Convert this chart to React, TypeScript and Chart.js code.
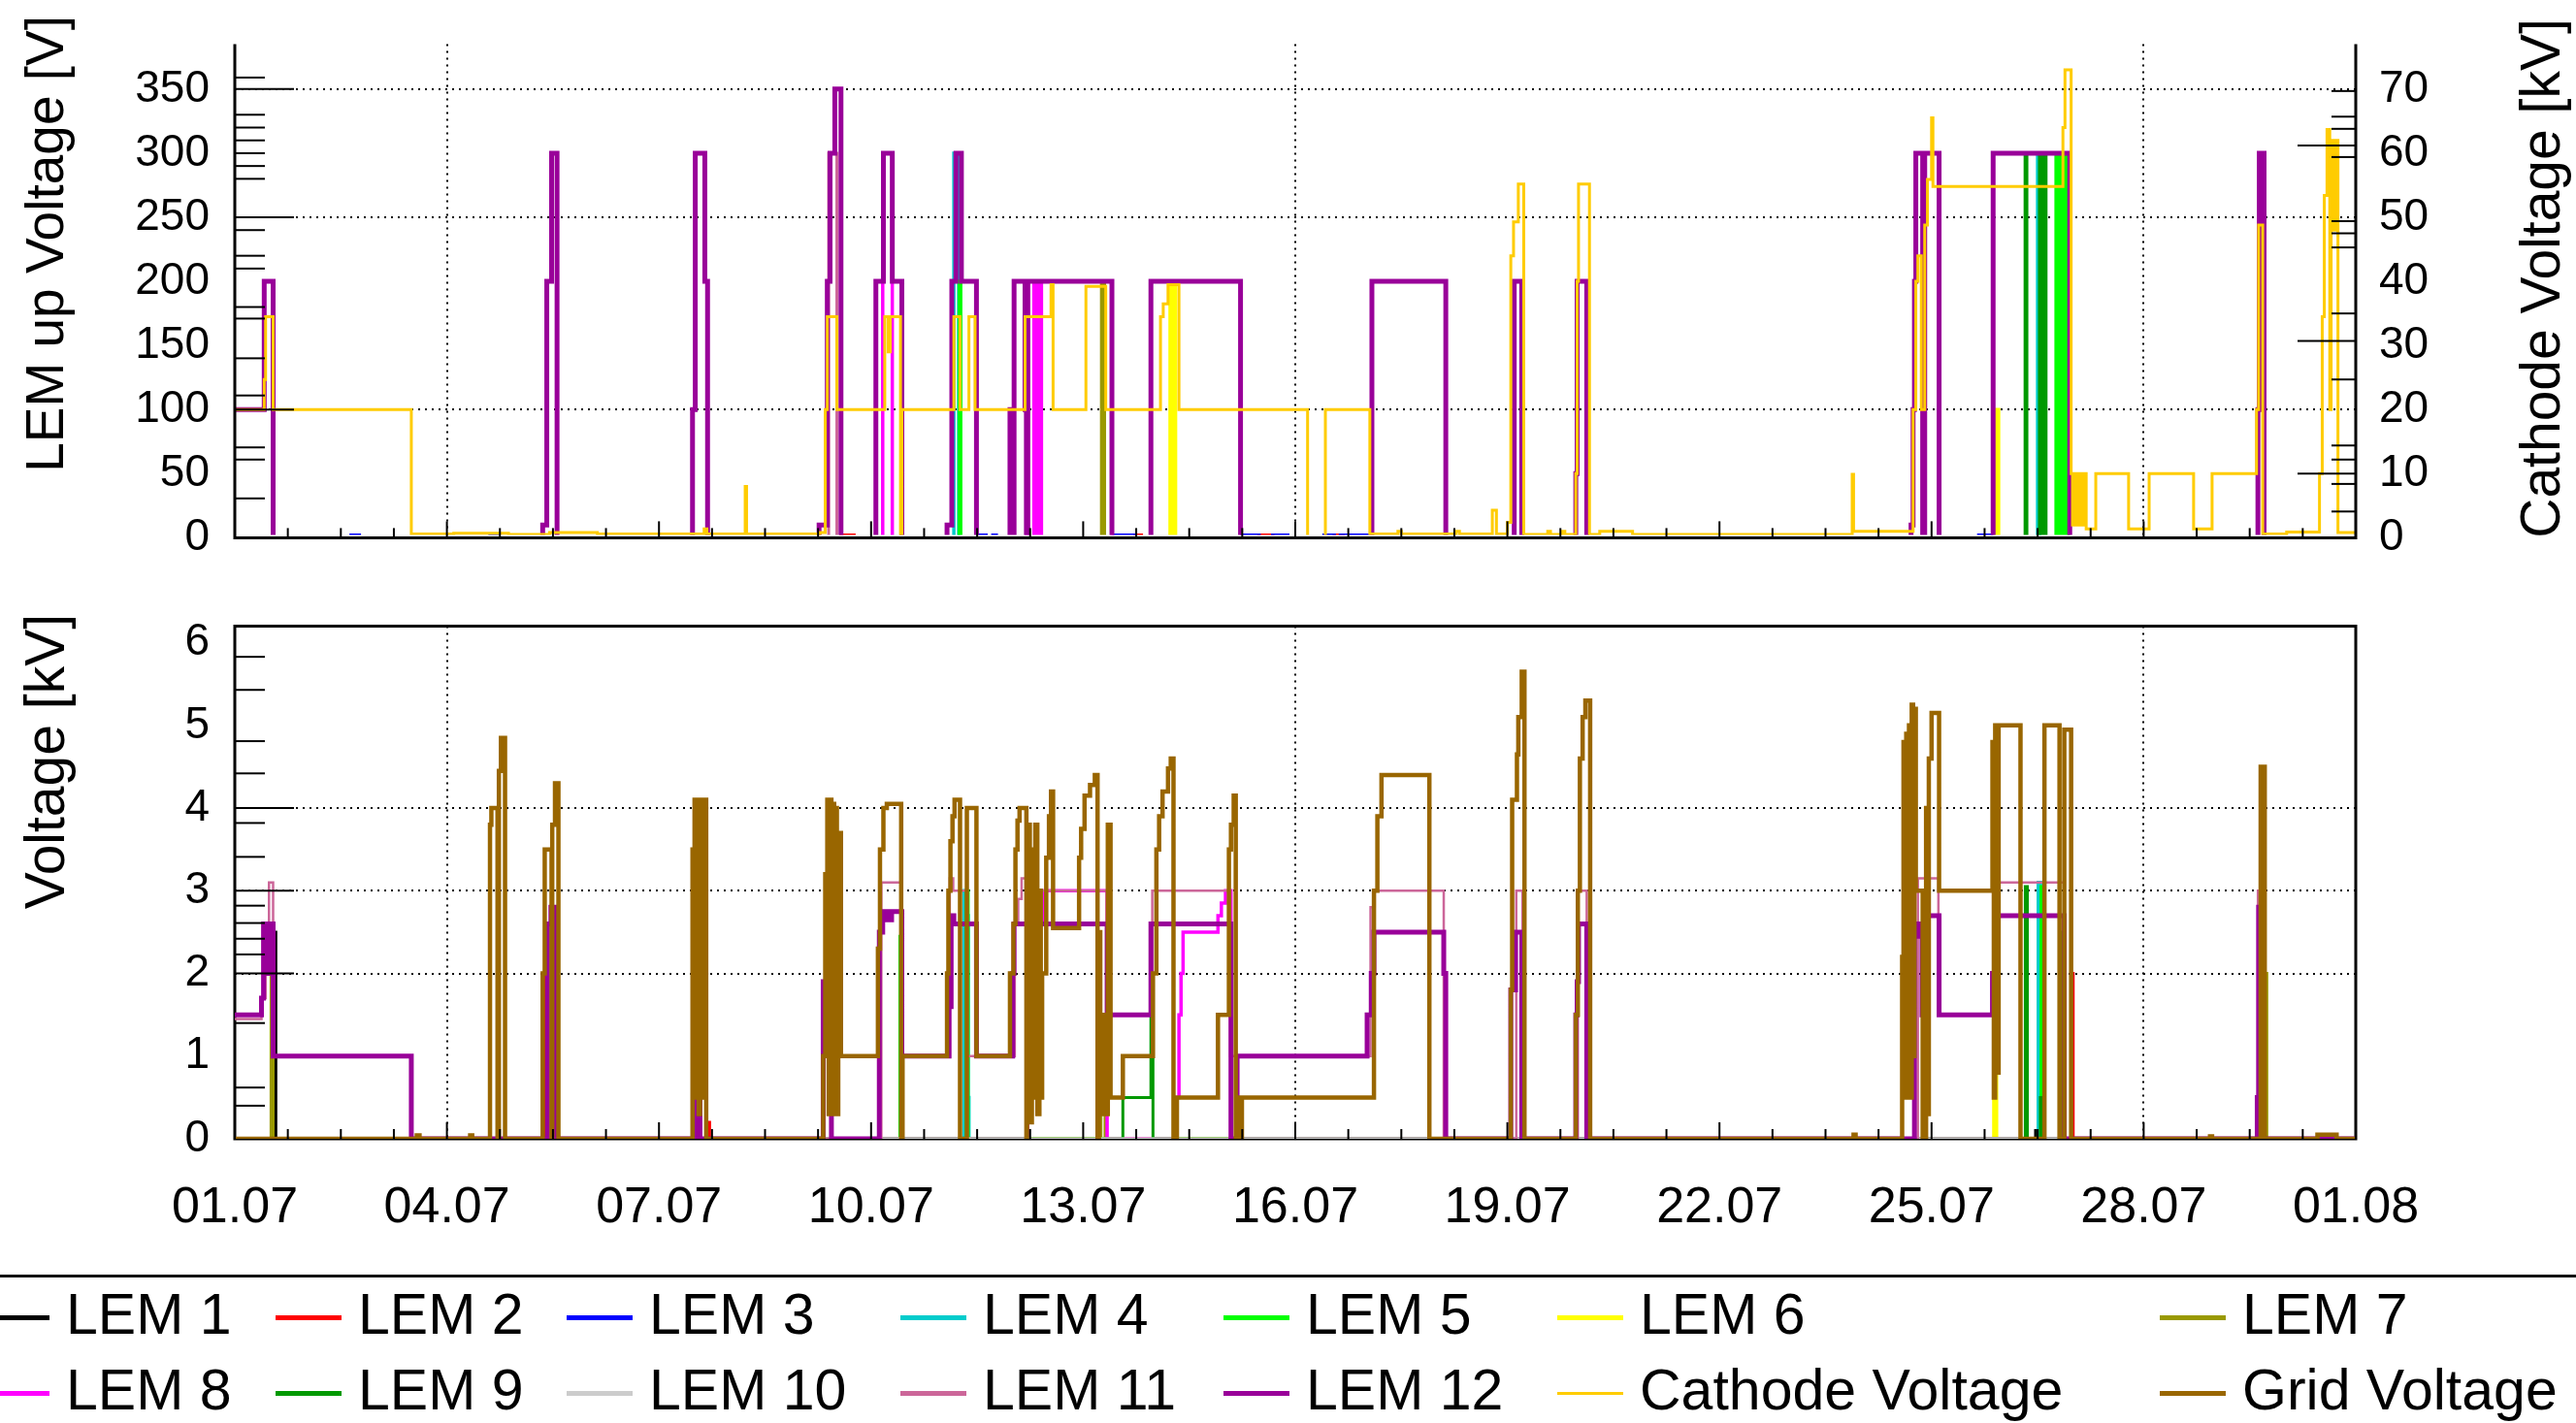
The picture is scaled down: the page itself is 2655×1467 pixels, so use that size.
import React, { useEffect, useRef } from 'react';
import { Chart, registerables } from 'chart.js';

Chart.register(...registerables);

const FONT = '"Liberation Sans", Arial, Helvetica, sans-serif';
type Pt = [number, number];

// ---------------- axes / ticks ----------------
const xTickDays = [0, 3.1, 6.2, 9.3, 12.4, 15.5, 18.6, 21.7, 24.8, 27.9, 31];
const xTickLabels = ['01.07', '04.07', '07.07', '10.07', '13.07', '16.07', '19.07', '22.07', '25.07', '28.07', '01.08'];
const xGridDays = [3.1, 15.5, 27.9];

const topLeftLabels = [0, 50, 100, 150, 200, 250, 300, 350];
const topLeftGrid = [100, 250, 350];
const topLeftMinor = [30.7, 61, 70.5, 111, 140, 171, 180, 210, 220, 240, 280, 290, 300, 310, 320, 330, 359];
const topRightLabels = [0, 10, 20, 30, 40, 50, 60, 70];
const topRightLong = [10, 30.7, 61.2];
const topRightMinor = [4.1, 8.4, 12.2, 14.4, 24.7, 35, 45.3, 47.5, 49.4, 59.4, 63.8, 65.7, 69.7];
const botLeftLabels = [0, 1, 2, 3, 4, 5, 6];
const botLeftGrid = [2, 3, 4];
const botLeftMinor = [0.4, 0.62, 1.4, 2.23, 2.42, 2.61, 2.82, 3.41, 3.82, 4.42, 4.81, 5.43, 5.83];

// ---------------- top panel: LEM up voltages [V], cathode [kV] ----------------
const lem1Up: Pt[] = [[0, 0], [31, 0]];
const lem2Up: Pt[] = [[0, 0], [8.86, 2], [9.05, 0], [13.16, 2], [13.25, 0], [14.97, 2], [15.17, 0], [16.07, 2], [16.2, 0], [31, 0]];
const lem3Up: Pt[] = [[0, 0], [1.7, 2], [1.82, 0], [3.73, 2], [3.86, 0], [10.89, 2], [10.98, 0], [11.08, 2], [11.13, 0], [12.85, 2], [13.16, 0], [14.72, 2], [14.97, 0], [15.17, 2], [15.39, 0], [15.92, 2], [16.07, 0], [16.16, 2], [16.56, 0], [25.49, 2], [25.68, 0], [31, 0]];
const lem4Up: Pt[] = [[0, 0], [10.51, 300], [10.58, 0], [26.35, 300], [26.38, 0], [31, 0]];
const lem5Up: Pt[] = [[0, 0], [10.59, 200], [10.61, 0], [26.62, 300], [26.64, 0], [26.66, 300], [26.68, 0], [26.7, 300], [26.72, 0], [26.74, 300], [26.76, 0], [26.78, 300], [26.8, 0], [31, 0]];
const lem6Up: Pt[] = [[0, 0], [13.67, 200], [13.69, 0], [13.7, 200], [13.72, 0], [13.73, 200], [13.75, 0], [25.73, 100], [25.78, 0], [31, 0]];
const lem7Up: Pt[] = [[0, 0], [12.67, 200], [12.69, 0], [12.7, 200], [12.71, 0], [31, 0]];
const lem8Up: Pt[] = [[0, 0], [9.47, 300], [9.61, 0], [11.57, 200], [11.6, 0], [11.68, 200], [11.7, 0], [11.72, 200], [11.74, 0], [11.76, 200], [11.78, 0], [11.79, 200], [12.82, 0], [31, 0]];
const lem9Up: Pt[] = [[0, 0], [26.17, 300], [26.19, 0], [26.38, 300], [26.4, 0], [26.42, 300], [26.44, 0], [26.45, 300], [26.47, 0], [31, 0]];
const lem10Up: Pt[] = [[0, 0], [31, 0]];
const lem11Up: Pt[] = [[0, 0], [8.68, 300], [8.8, 0], [31, 0]];
const lem12Up: Pt[] = [
  [0, 100], [0.43, 200], [0.56, 0],
  [4.5, 10], [4.56, 200], [4.63, 300], [4.71, 0],
  [6.69, 100], [6.73, 300], [6.87, 200], [6.91, 0],
  [8.54, 10], [8.66, 200], [8.7, 300], [8.77, 350], [8.86, 0],
  [9.37, 200], [9.48, 300], [9.61, 200], [9.75, 0],
  [10.41, 10], [10.48, 200], [10.54, 300], [10.62, 200], [10.84, 0],
  [11.33, 100], [11.36, 0], [11.39, 200], [11.55, 100], [11.57, 0], [11.59, 200], [12.82, 0],
  [13.39, 200], [14.7, 0],
  [16.62, 200], [17.7, 0],
  [18.7, 200], [18.81, 0],
  [19.6, 50], [19.62, 200], [19.76, 0],
  [24.5, 10], [24.53, 100], [24.55, 200], [24.57, 300], [24.67, 0], [24.7, 300], [24.91, 0],
  [25.7, 300], [26.82, 0],
  [29.57, 100], [29.59, 300], [29.66, 0],
  [31, 0],
];
const cathodeKV: Pt[] = [
  [0, 20], [0.43, 24.7], [0.45, 34.5], [0.56, 20], [2.58, 0.6],
  [3.2, 0.7], [4.0, 0.5], [4.6, 0.8], [5.3, 0.6], [6.86, 1.4], [6.9, 0.6], [7.46, 8], [7.48, 0.6],
  [8.55, 0.8], [8.63, 20], [8.66, 34.5], [8.8, 20], [9.5, 34.5], [9.55, 29], [9.58, 34.5], [9.73, 0], [9.75, 20],
  [10.51, 34.5], [10.6, 20], [10.73, 34.5], [10.82, 20], [11.55, 34.5], [11.93, 39.5], [11.96, 20], [12.44, 39.2], [12.73, 20],
  [13.53, 34.5], [13.57, 36.5], [13.64, 39.5], [13.8, 20], [15.68, 0], [15.94, 20], [16.59, 0.6],
  [17.0, 1.0], [17.05, 0.6], [17.85, 1.0], [17.9, 0.6], [18.38, 4.3], [18.44, 0.6], [18.6, 2.4], [18.65, 44], [18.69, 49.3], [18.76, 55.2], [18.84, 0.5],
  [19.19, 1.0], [19.23, 0.5], [19.4, 1.0], [19.44, 0.5], [19.6, 10], [19.62, 40], [19.64, 55.2], [19.8, 0.5],
  [19.95, 1.0], [20.43, 0.5], [23.64, 9.9], [23.66, 1.0],
  [24.53, 20], [24.57, 40], [24.6, 44], [24.65, 20], [24.7, 48.8], [24.74, 55.9], [24.8, 65.5], [24.82, 54.8],
  [26.72, 64], [26.75, 73], [26.84, 10], [26.86, 2], [26.88, 10], [26.9, 2], [26.92, 10], [26.94, 2], [26.96, 10], [26.98, 2], [27.0, 10], [27.02, 2], [27.04, 10], [27.06, 1.4],
  [27.2, 10], [27.68, 1.4], [27.98, 10], [28.63, 1.4], [28.9, 10], [29.55, 20], [29.58, 48.8], [29.64, 0.6], [29.99, 0.9],
  [30.47, 10], [30.51, 34.5], [30.54, 53.4], [30.58, 63.7], [30.62, 20], [30.64, 62], [30.67, 48], [30.7, 62], [30.74, 0.8], [31, 0.8],
];

// ---------------- bottom panel: voltages [kV] ----------------
const lem1Down: Pt[] = [[0, 0], [0.56, 2.5], [0.6, 0], [26.32, 0.1], [26.34, 0], [31, 0]];
const lem2Down: Pt[] = [[0, 0], [4.53, 2.0], [4.56, 0], [6.91, 0.2], [6.94, 0], [26.68, 0.5], [26.72, 0], [26.84, 2.0], [26.87, 0], [31, 0]];
const lem3Down: Pt[] = [[0, 0], [31, 0]];
const lem4Down: Pt[] = [[0, 0], [10.66, 3.0], [10.68, 0.5], [10.7, 2.7], [10.72, 0.5], [10.73, 0], [26.36, 3.1], [26.38, 0.5], [26.4, 3.1], [26.42, 0.5], [26.44, 0], [31, 0]];
const lem5Down: Pt[] = [[0, 0], [9.72, 2.45], [9.75, 2.0], [9.76, 0], [10.69, 3.0], [10.72, 0], [26.4, 3.05], [26.42, 0], [26.69, 2.5], [26.72, 0], [31, 0]];
const lem6Down: Pt[] = [[0, 0], [25.71, 2.5], [25.75, 0], [31, 0]];
const lem7Down: Pt[] = [[0, 0], [0.53, 2.0], [0.56, 0], [12.66, 1.5], [12.72, 0], [24.69, 1.5], [24.71, 0], [29.66, 2.0], [29.7, 0], [31, 0]];
const lem8Down: Pt[] = [[0, 0], [11.59, 2.0], [11.62, 2.6], [11.83, 3.0], [12.75, 0], [13.77, 0.5], [13.8, 1.5], [13.83, 2.0], [13.86, 2.5], [14.37, 2.7], [14.42, 2.85], [14.48, 3.0], [14.56, 0], [31, 0]];
const lem9Down: Pt[] = [[0, 0], [12.98, 0.5], [13.39, 1.5], [13.42, 0], [26.17, 3.05], [26.2, 0], [26.39, 0.5], [26.43, 0], [31, 0]];
const lem10Down: Pt[] = [[0, 0], [31, 0]];
const lem11Down: Pt[] = [
  [0, 1.45], [0.39, 1.7], [0.45, 2.6], [0.5, 3.1], [0.56, 1.0], [2.58, 0],
  [6.75, 3.0], [6.8, 0], [9.45, 3.1], [9.75, 1.0], [10.45, 3.15], [10.5, 3.0], [10.7, 1.0],
  [11.4, 2.6], [11.45, 2.9], [11.5, 3.15], [11.56, 3.0], [12.75, 1.5], [13.41, 3.0], [14.55, 1.0], [16.6, 2.8], [16.66, 3.0], [17.67, 0],
  [18.73, 3.0], [18.82, 0], [19.63, 3.0], [19.76, 0],
  [24.6, 3.15], [24.9, 1.5], [25.7, 3.2], [25.73, 3.1], [26.74, 0], [29.57, 3.0], [29.63, 0], [31, 0],
];
const lem12Down: Pt[] = [
  [0, 1.5], [0.39, 1.7], [0.42, 2.6], [0.47, 2.0], [0.49, 2.6], [0.51, 2.0], [0.53, 2.6], [0.56, 1.0], [2.58, 0],
  [4.57, 2.6], [4.62, 2.8], [4.7, 0], [6.75, 2.4], [6.8, 0], [8.6, 1.9], [8.72, 0],
  [9.42, 2.5], [9.47, 2.75], [9.53, 2.65], [9.6, 2.75], [9.75, 1.0],
  [10.44, 1.6], [10.47, 2.7], [10.51, 2.6], [10.84, 1.0],
  [11.37, 2.0], [11.39, 2.6], [12.75, 1.5], [13.39, 2.6], [14.56, 0], [14.65, 1.0], [16.55, 1.5], [16.61, 2.0], [16.65, 2.5], [17.67, 2.0], [17.7, 0],
  [18.65, 1.8], [18.72, 2.5], [18.81, 0], [19.6, 1.5], [19.62, 1.9], [19.64, 2.6], [19.76, 0],
  [24.55, 2.45], [24.61, 2.6], [24.66, 1.5], [24.7, 2.7], [24.91, 1.5], [25.69, 2.0], [25.72, 2.7], [26.74, 0],
  [29.56, 0.5], [29.58, 2.8], [29.63, 0], [31, 0],
];
const gridKV: Pt[] = [
  [0, 0], [2.66, 0.04], [2.7, 0], [3.44, 0.04], [3.47, 0],
  [3.73, 3.8], [3.75, 4.0], [3.84, 0], [3.86, 4.45], [3.89, 4.85], [3.95, 0],
  [4.5, 2.0], [4.53, 3.5], [4.63, 0], [4.64, 3.8], [4.68, 4.3], [4.73, 0],
  [6.69, 3.5], [6.72, 4.1], [6.74, 0.5], [6.76, 4.1], [6.78, 0.3], [6.8, 4.1], [6.82, 0.5], [6.84, 4.1], [6.89, 0],
  [8.6, 1.0], [8.63, 3.2], [8.66, 4.1], [8.68, 0.3], [8.7, 4.1], [8.72, 0.5], [8.74, 4.05], [8.76, 0.3], [8.78, 4.0], [8.8, 0.3], [8.82, 3.7], [8.86, 1.0],
  [9.4, 2.3], [9.43, 3.5], [9.48, 4.0], [9.53, 4.05], [9.74, 0], [9.76, 1.0],
  [10.41, 2.0], [10.43, 3.0], [10.46, 3.6], [10.49, 3.9], [10.52, 4.1], [10.6, 0], [10.7, 4.0], [10.84, 1.0],
  [11.33, 2.0], [11.38, 2.6], [11.41, 3.5], [11.44, 3.85], [11.47, 4.0], [11.57, 0],
  [11.58, 1.0], [11.6, 3.8], [11.62, 0.2], [11.65, 3.5], [11.67, 0.5], [11.7, 3.8], [11.73, 0.3], [11.76, 3.0], [11.78, 0.5],
  [11.8, 2.0], [11.86, 3.4], [11.9, 3.9], [11.93, 4.2], [11.96, 2.55], [12.34, 3.4], [12.37, 3.75], [12.42, 4.15], [12.5, 4.28], [12.57, 4.4], [12.61, 0],
  [12.63, 2.5], [12.65, 0.3], [12.68, 1.5], [12.7, 0.3], [12.76, 3.8], [12.8, 0.5], [12.98, 1.0],
  [13.42, 2.0], [13.47, 3.5], [13.51, 3.9], [13.56, 4.2], [13.64, 4.48], [13.68, 4.6], [13.72, 0], [13.77, 0.5],
  [14.37, 1.5], [14.53, 3.5], [14.56, 3.8], [14.6, 4.15], [14.63, 0], [14.66, 0.5], [14.69, 0], [14.72, 0.5],
  [16.65, 3.0], [16.7, 3.9], [16.76, 4.4], [17.46, 0],
  [18.65, 1.8], [18.67, 4.1], [18.74, 4.65], [18.76, 5.1], [18.81, 5.65], [18.85, 0],
  [19.6, 1.5], [19.63, 3.0], [19.66, 4.6], [19.7, 5.1], [19.74, 5.3], [19.81, 0],
  [23.66, 0.05], [23.69, 0],
  [24.37, 2.2], [24.39, 4.8], [24.41, 0.5], [24.43, 4.9], [24.45, 1.0], [24.47, 5.0], [24.49, 0.5], [24.51, 5.25], [24.53, 1.0], [24.55, 5.2], [24.57, 3.0], [24.67, 0],
  [24.72, 4.0], [24.74, 0.3], [24.76, 4.6], [24.8, 5.15], [24.91, 3.0],
  [25.69, 4.8], [25.71, 0.5], [25.73, 5.0], [25.75, 0.8], [25.78, 5.0], [26.1, 0],
  [26.45, 5.0], [26.67, 0], [26.74, 4.95], [26.84, 0],
  [28.87, 0.03], [28.9, 0], [29.61, 4.5], [29.67, 0], [30.44, 0.05], [30.72, 0], [31, 0],
];

// ---------------- styles ----------------
const COLORS = {
  lem1: '#000000', lem2: '#ff0000', lem3: '#0000ff', lem4: '#00cccc', lem5: '#00ff00', lem6: '#ffff00',
  lem7: '#999900', lem8: '#ff00ff', lem9: '#009900', lem10: '#cccccc', lem11: '#cc6699', lem12: '#990099',
  cathode: '#ffcc00', grid: '#996600',
};

const legendRow1 = [
  { label: 'LEM 1', color: COLORS.lem1, w: 5 }, { label: 'LEM 2', color: COLORS.lem2, w: 5 },
  { label: 'LEM 3', color: COLORS.lem3, w: 5 }, { label: 'LEM 4', color: COLORS.lem4, w: 5 },
  { label: 'LEM 5', color: COLORS.lem5, w: 5 }, { label: 'LEM 6', color: COLORS.lem6, w: 5 },
  { label: 'LEM 7', color: COLORS.lem7, w: 5 },
];
const legendRow2 = [
  { label: 'LEM 8', color: COLORS.lem8, w: 5 }, { label: 'LEM 9', color: COLORS.lem9, w: 5 },
  { label: 'LEM 10', color: COLORS.lem10, w: 5 }, { label: 'LEM 11', color: COLORS.lem11, w: 5 },
  { label: 'LEM 12', color: COLORS.lem12, w: 5 }, { label: 'Cathode Voltage', color: COLORS.cathode, w: 3 },
  { label: 'Grid Voltage', color: COLORS.grid, w: 5 },
];
const legendCols = [-17, 284, 584, 928, 1261, 1605, 2226];
const legendRowY = [1355, 1433];

function ds(label: string, data: Pt[], color: string, width: number, order: number, yAxisID: string, clipBottom: number) {
  return {
    label,
    data: data.map(([x, y]) => ({ x, y })),
    borderColor: color,
    backgroundColor: color,
    borderWidth: width,
    pointRadius: 0,
    pointHoverRadius: 0,
    stepped: true,
    fill: false,
    tension: 0,
    order,
    yAxisID,
    clip: { left: 0, top: 12, right: 0, bottom: clipBottom },
  };
}

type Title = { text: string; x: number; y: number; align: CanvasTextAlign; size: number };

function rootPlugin(o: {
  grid: number[]; long: number[]; minor: number[];
  rLong?: number[]; rMinor?: number[];
  fullFrame: boolean; frameBehind: boolean; titles: Title[];
}) {
  const drawFrame = (chart: any) => {
    const { ctx, chartArea: a } = chart;
    ctx.save();
    ctx.strokeStyle = '#000';
    ctx.lineWidth = 3;
    ctx.setLineDash([]);
    ctx.beginPath();
    if (o.fullFrame) {
      ctx.rect(a.left, a.top, a.right - a.left, a.bottom - a.top);
    } else {
      ctx.moveTo(a.left, a.top);
      ctx.lineTo(a.left, a.bottom);
      ctx.lineTo(a.right, a.bottom);
      ctx.lineTo(a.right, a.top);
    }
    ctx.stroke();
    ctx.restore();
  };
  return {
    id: 'rootFrame',
    beforeDatasetsDraw(chart: any) {
      const { ctx, chartArea: a, scales } = chart;
      ctx.save();
      ctx.strokeStyle = '#000';
      ctx.lineWidth = 2;
      ctx.setLineDash([2, 5]);
      for (const v of o.grid) {
        const y = Math.round(scales.y.getPixelForValue(v));
        ctx.beginPath(); ctx.moveTo(a.left, y); ctx.lineTo(a.right, y); ctx.stroke();
      }
      for (const d of xGridDays) {
        const x = Math.round(scales.x.getPixelForValue(d));
        ctx.beginPath(); ctx.moveTo(x, a.top); ctx.lineTo(x, a.bottom); ctx.stroke();
      }
      ctx.restore();
      if (o.frameBehind) drawFrame(chart);
    },
    afterDatasetsDraw(chart: any) {
      const { ctx, chartArea: a, scales } = chart;
      if (!o.frameBehind) drawFrame(chart);
      ctx.save();
      ctx.strokeStyle = '#000';
      ctx.setLineDash([]);
      ctx.lineWidth = 2;
      for (let k = 0; k <= 40; k++) {
        const x = scales.x.getPixelForValue(k * 0.775);
        const len = k % 4 === 0 ? 17 : 10;
        ctx.beginPath(); ctx.moveTo(x, a.bottom); ctx.lineTo(x, a.bottom - len); ctx.stroke();
      }
      for (const v of o.long) {
        const y = scales.y.getPixelForValue(v);
        ctx.beginPath(); ctx.moveTo(a.left, y); ctx.lineTo(a.left + 61, y); ctx.stroke();
      }
      for (const v of o.minor) {
        const y = scales.y.getPixelForValue(v);
        ctx.beginPath(); ctx.moveTo(a.left, y); ctx.lineTo(a.left + 31, y); ctx.stroke();
      }
      if (o.rLong && scales.y2) {
        for (const v of o.rLong) {
          const y = scales.y2.getPixelForValue(v);
          ctx.beginPath(); ctx.moveTo(a.right, y); ctx.lineTo(a.right - 60, y); ctx.stroke();
        }
      }
      if (o.rMinor && scales.y2) {
        for (const v of o.rMinor) {
          const y = scales.y2.getPixelForValue(v);
          ctx.beginPath(); ctx.moveTo(a.right, y); ctx.lineTo(a.right - 25, y); ctx.stroke();
        }
      }
      ctx.restore();
    },
    afterDraw(chart: any) {
      const { ctx } = chart;
      for (const t of o.titles) {
        ctx.save();
        ctx.font = `${t.size}px ${FONT}`;
        ctx.fillStyle = '#000';
        ctx.translate(t.x, t.y);
        ctx.rotate(-Math.PI / 2);
        ctx.textAlign = t.align;
        ctx.textBaseline = 'middle';
        ctx.fillText(t.text, 0, 0);
        ctx.restore();
      }
    },
  };
}

const tickFont = { size: 46, family: FONT };

export default function App() {
  const topRef = useRef<HTMLCanvasElement>(null);
  const botRef = useRef<HTMLCanvasElement>(null);

  useEffect(() => {
    Chart.defaults.font.family = FONT;
    const cb = -3;
    const topDatasets = [
      ds('Cathode Voltage', cathodeKV, COLORS.cathode, 3, 0, 'y2', cb),
      ds('LEM 12', lem12Up, COLORS.lem12, 5, 1, 'y', cb),
      ds('LEM 11', lem11Up, COLORS.lem11, 3, 2, 'y', cb),
      ds('LEM 10', lem10Up, COLORS.lem10, 3, 3, 'y', cb),
      ds('LEM 9', lem9Up, COLORS.lem9, 3.5, 4, 'y', cb),
      ds('LEM 8', lem8Up, COLORS.lem8, 3.5, 5, 'y', cb),
      ds('LEM 7', lem7Up, COLORS.lem7, 3.5, 6, 'y', cb),
      ds('LEM 6', lem6Up, COLORS.lem6, 3.5, 7, 'y', cb),
      ds('LEM 5', lem5Up, COLORS.lem5, 3.5, 8, 'y', cb),
      ds('LEM 4', lem4Up, COLORS.lem4, 3.5, 9, 'y', cb),
      ds('LEM 3', lem3Up, COLORS.lem3, 3.5, 10, 'y', cb),
      ds('LEM 2', lem2Up, COLORS.lem2, 3.5, 11, 'y', cb),
      ds('LEM 1', lem1Up, COLORS.lem1, 3.5, 12, 'y', cb),
    ];
    const botDatasets = [
      ds('Grid Voltage', gridKV, COLORS.grid, 4.5, 0, 'y', 0),
      ds('LEM 12', lem12Down, COLORS.lem12, 5, 1, 'y', 0),
      ds('LEM 11', lem11Down, COLORS.lem11, 2.5, 2, 'y', 0),
      ds('LEM 10', lem10Down, COLORS.lem10, 3, 3, 'y', 0),
      ds('LEM 9', lem9Down, COLORS.lem9, 3, 4, 'y', 0),
      ds('LEM 8', lem8Down, COLORS.lem8, 3.5, 5, 'y', 0),
      ds('LEM 7', lem7Down, COLORS.lem7, 3, 6, 'y', 0),
      ds('LEM 6', lem6Down, COLORS.lem6, 3.5, 7, 'y', 0),
      ds('LEM 5', lem5Down, COLORS.lem5, 3, 8, 'y', 0),
      ds('LEM 4', lem4Down, COLORS.lem4, 3.5, 9, 'y', 0),
      ds('LEM 3', lem3Down, COLORS.lem3, 3, 10, 'y', 0),
      ds('LEM 2', lem2Down, COLORS.lem2, 3, 11, 'y', 0),
      ds('LEM 1', lem1Down, COLORS.lem1, 3, 12, 'y', 0),
    ];

    const common: any = {
      responsive: false,
      maintainAspectRatio: false,
      animation: false,
      devicePixelRatio: 1,
      events: [],
      plugins: { legend: { display: false }, tooltip: { enabled: false } },
    };

    const top = new Chart(topRef.current as HTMLCanvasElement, {
      type: 'line',
      data: { datasets: topDatasets as any },
      options: {
        ...common,
        layout: { padding: { top: 17, left: 0, right: 0, bottom: 0 } },
        scales: {
          x: {
            type: 'linear', min: 0, max: 31,
            ticks: { display: false },
            grid: { display: false }, border: { display: false },
            afterFit: (s: any) => { s.height = 38; },
          },
          y: {
            type: 'linear', position: 'left', min: 0, max: 385,
            afterBuildTicks: (s: any) => { s.ticks = topLeftLabels.map((v) => ({ value: v })); },
            ticks: { font: tickFont, color: '#000', padding: 18, autoSkip: false },
            grid: { display: false }, border: { display: false },
            afterFit: (s: any) => { s.width = 242; },
          },
          y2: {
            type: 'linear', position: 'right', min: 0, max: 77,
            afterBuildTicks: (s: any) => { s.ticks = topRightLabels.map((v) => ({ value: v })); },
            ticks: { font: tickFont, color: '#000', padding: 16, autoSkip: false },
            grid: { display: false }, border: { display: false },
            afterFit: (s: any) => { s.width = 227; },
          },
        },
      } as any,
      plugins: [rootPlugin({
        grid: topLeftGrid, long: topLeftGrid, minor: topLeftMinor,
        rLong: topRightLong, rMinor: topRightMinor,
        fullFrame: false, frameBehind: false,
        titles: [
          { text: 'LEM up Voltage [V]', x: 50, y: 16, align: 'right', size: 55 },
          { text: 'Cathode Voltage [kV]', x: 2622, y: 287, align: 'center', size: 57 },
        ],
      })],
    });

    const bot = new Chart(botRef.current as HTMLCanvasElement, {
      type: 'line',
      data: { datasets: botDatasets as any },
      options: {
        ...common,
        layout: { padding: { top: 32, left: 0, right: 227, bottom: 0 } },
        scales: {
          x: {
            type: 'linear', min: 0, max: 31,
            afterBuildTicks: (s: any) => { s.ticks = xTickDays.map((v) => ({ value: v })); },
            ticks: {
              font: { size: 52, family: FONT }, color: '#000', padding: 32, autoSkip: false, maxRotation: 0,
              callback: (_v: any, i: number) => xTickLabels[i],
            },
            grid: { display: false }, border: { display: false },
            afterFit: (s: any) => { s.height = 126; },
          },
          y: {
            type: 'linear', position: 'left', min: 0, max: 6.2,
            afterBuildTicks: (s: any) => { s.ticks = botLeftLabels.map((v) => ({ value: v })); },
            ticks: { font: tickFont, color: '#000', padding: 18, autoSkip: false },
            grid: { display: false }, border: { display: false },
            afterFit: (s: any) => { s.width = 242; },
          },
        },
      } as any,
      plugins: [rootPlugin({
        grid: botLeftGrid, long: botLeftGrid, minor: botLeftMinor,
        fullFrame: true, frameBehind: true,
        titles: [{ text: 'Voltage [kV]', x: 50, y: 33, align: 'right', size: 57 }],
      })],
    });

    return () => { top.destroy(); bot.destroy(); };
  }, []);

  const legendItems = [legendRow1, legendRow2].flatMap((row, r) =>
    row.map((it, c) => (
      <React.Fragment key={`${r}-${c}`}>
        <div style={{
          position: 'absolute', left: legendCols[c], top: legendRowY[r] + 3 - it.w / 2,
          width: 68, height: it.w, background: it.color,
        }} />
        <div style={{
          position: 'absolute', left: legendCols[c] + 85, top: legendRowY[r] - 29,
          height: 58, lineHeight: '58px', fontSize: 59, fontFamily: FONT, color: '#000', whiteSpace: 'nowrap',
        }}>{it.label}</div>
      </React.Fragment>
    )),
  );

  return (
    <div style={{ position: 'absolute', left: 0, top: 0, width: 2655, height: 1467, background: '#fff', overflow: 'hidden' }}>
      <canvas ref={topRef} width={2655} height={600} style={{ position: 'absolute', left: 0, top: 0, width: 2655, height: 600 }} />
      <canvas ref={botRef} width={2655} height={700} style={{ position: 'absolute', left: 0, top: 600, width: 2655, height: 700 }} />
      <div style={{ position: 'absolute', left: 0, top: 1314, width: 2655, height: 3, background: '#111' }} />
      {legendItems}
    </div>
  );
}
